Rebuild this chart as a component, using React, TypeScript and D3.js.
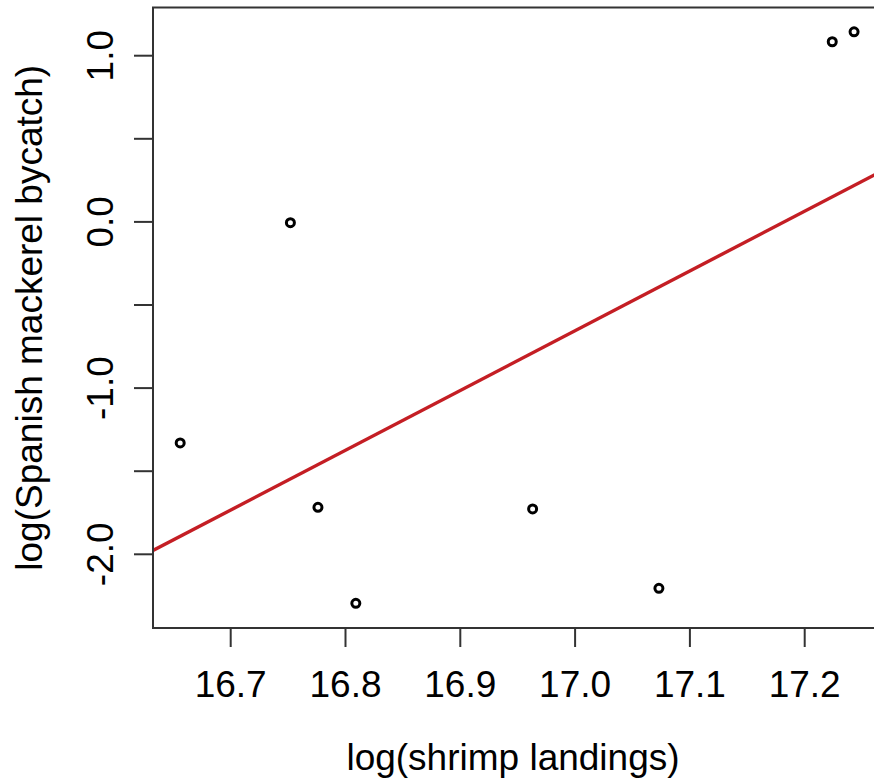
import React from 'react';
import * as d3 from 'd3';

// log(shrimp landings) vs log(Spanish mackerel bycatch)
const shrimpLog = [16.656, 16.752, 16.776, 16.809, 16.963, 17.073, 17.224, 17.243];
const mackerelLog = [-1.33, -0.005, -1.717, -2.295, -1.727, -2.205, 1.084, 1.144];

const xTicks = [16.7, 16.8, 16.9, 17.0, 17.1, 17.2];
const yTicks = [-2.0, -1.5, -1.0, -0.5, 0.0, 0.5, 1.0];
const yLabelTicks = [-2.0, -1.0, 0.0, 1.0];

const W = 874;
const H = 783;
const box = { left: 153, top: 7.5, right: 882, bottom: 628 };
const font = 'Liberation Sans, Arial, sans-serif';

export default function App() {
  const x = d3.scaleLinear().domain([16.7, 17.2]).range([230.7, 804.7]);
  const y = d3.scaleLinear().domain([-2.0, 1.0]).range([554.3, 55.7]);

  // least squares fit, like abline(lm(y ~ x))
  const mx = d3.mean(shrimpLog)!;
  const my = d3.mean(mackerelLog)!;
  const sxy = d3.sum(shrimpLog, (v, i) => (v - mx) * (mackerelLog[i] - my));
  const sxx = d3.sum(shrimpLog, v => (v - mx) ** 2);
  const slope = sxy / sxx;
  const icept = my - slope * mx;
  const x0 = x.invert(box.left);
  const x1 = x.invert(box.right);
  const fit = d3.line<number>()
    .x(v => x(v))
    .y(v => y(icept + slope * v))([x0, x1]);

  return (
    <svg width={W} height={H} style={{ position: 'absolute', left: 0, top: 0, background: '#fff' }}>
      <rect x={0} y={0} width={W} height={H} fill="#fff" />
      <defs>
        <clipPath id="plotclip">
          <rect x={box.left} y={box.top} width={box.right - box.left} height={box.bottom - box.top} />
        </clipPath>
      </defs>
      <g clipPath="url(#plotclip)">
        <path d={fit ?? ''} stroke="#c41e24" strokeWidth={3.4} fill="none" />
        {shrimpLog.map((v, i) => (
          <circle key={i} cx={x(v)} cy={y(mackerelLog[i])} r={4} fill="none" stroke="#000" strokeWidth={3} />
        ))}
      </g>
      <rect x={box.left} y={box.top} width={box.right - box.left} height={box.bottom - box.top}
        fill="none" stroke="#333" strokeWidth={2} />

      {xTicks.map(t => (
        <g key={t}>
          <line x1={x(t)} x2={x(t)} y1={box.bottom} y2={box.bottom + 19} stroke="#333" strokeWidth={2} />
          <text x={x(t)} y={697} textAnchor="middle" fontFamily={font} fontSize={37} fill="#000">
            {t.toFixed(1)}
          </text>
        </g>
      ))}

      {yTicks.map(t => (
        <line key={t} x1={box.left - 19} x2={box.left} y1={y(t)} y2={y(t)} stroke="#333" strokeWidth={2} />
      ))}
      {yLabelTicks.map(t => (
        <text key={t} transform={`translate(113,${y(t)}) rotate(-90)`} textAnchor="middle"
          fontFamily={font} fontSize={37} fill="#000">
          {t.toFixed(1)}
        </text>
      ))}

      <text x={513} y={770} textAnchor="middle" fontFamily={font} fontSize={37} fill="#000">
        log(shrimp landings)
      </text>
      <text transform={`translate(42,${(box.top + box.bottom) / 2}) rotate(-90)`} textAnchor="middle"
        fontFamily={font} fontSize={37} fill="#000">
        log(Spanish mackerel bycatch)
      </text>
    </svg>
  );
}
